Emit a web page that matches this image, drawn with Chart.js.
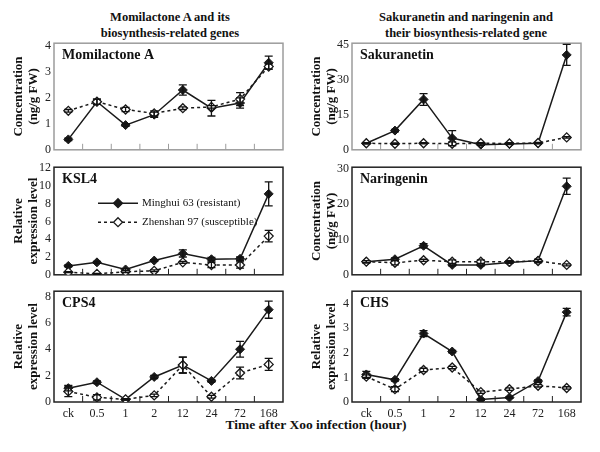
<!DOCTYPE html>
<html><head><meta charset="utf-8">
<script src="https://cdn.jsdelivr.net/npm/chart.js@4/dist/chart.umd.min.js"></script>
<style>
body{margin:0;background:#fff;width:600px;height:452px;position:relative;overflow:hidden;font-family:'Liberation Serif','Times New Roman',serif;color:#111;}
.hdr{position:absolute;font-weight:bold;font-size:12.5px;line-height:16px;text-align:center;white-space:nowrap;}
canvas{position:absolute;}
#xt{position:absolute;left:16px;width:600px;top:417px;text-align:center;font-weight:bold;font-size:13.5px;line-height:16px;}
</style></head><body>
<div class="hdr" id="h1" style="left:60px;width:220px;top:9px"></div>
<div class="hdr" id="h2" style="left:356px;width:220px;top:9px"></div>
<div id="xt"></div>
<script>
// ---------- data ----------
const categories = ['ck','0.5','1','2','12','24','72','168'];
const headerLeft = ['Momilactone A and its','biosynthesis-related genes'];
const headerRight = ['Sakuranetin and naringenin and','their biosynthesis-related gene'];
const xAxisTitle = 'Time after Xoo infection (hour)';
const concTitle = ['Concentration','(ng/g FW)'];
const exprTitle = ['Relative','expression level'];
const legendLabels = ['Minghui 63 (resistant)','Zhenshan 97 (susceptible)'];
const panelTitles = ['Momilactone A','Sakuranetin','KSL4','Naringenin','CPS4','CHS'];

const momiR    = [0.4, 1.85, 0.95, 1.35, 2.3, 1.6, 1.8, 3.35];
const momiRErr = [0.05, 0.1, 0.05, 0.1, 0.2, 0.3, 0.2, 0.25];
const momiS    = [1.5, 1.85, 1.55, 1.4, 1.6, 1.65, 1.95, 3.2];
const momiSErr = [0.05, 0.1, 0.08, 0.1, 0.05, 0.05, 0.25, 0.1];

const sakuR    = [2.8, 8.2, 21.5, 5.0, 2.2, 2.5, 2.8, 40.5];
const sakuRErr = [0.3, 0.5, 2.5, 3.2, 0.3, 0.3, 0.3, 4.5];
const sakuS    = [2.8, 2.6, 2.8, 2.6, 2.8, 2.7, 2.9, 5.3];
const sakuSErr = [0.3, 0.3, 0.3, 0.8, 0.3, 0.3, 0.3, 0.3];

const kslR     = [1.0, 1.4, 0.6, 1.6, 2.4, 1.75, 1.8, 9.1];
const kslRErr  = [0.1, 0.1, 0.1, 0.1, 0.4, 0.2, 0.2, 1.35];
const kslS     = [0.3, 0.1, 0.35, 0.45, 1.4, 1.1, 1.1, 4.35];
const kslSErr  = [0.05, 0.05, 0.1, 0.1, 0.1, 0.3, 0.35, 0.65];

const narR     = [3.7, 4.4, 8.2, 2.8, 2.8, 3.5, 4.0, 25.0];
const narRErr  = [0.3, 0.4, 0.6, 0.3, 0.3, 0.3, 0.3, 2.3];
const narS     = [3.7, 3.4, 4.1, 3.7, 3.7, 3.7, 3.9, 2.8];
const narSErr  = [0.3, 0.6, 0.3, 0.5, 0.5, 0.3, 0.5, 0.3];

const cpsR     = [1.05, 1.5, 0.2, 1.9, 2.8, 1.6, 4.0, 7.0];
const cpsRErr  = [0.2, 0.1, 0.05, 0.12, 0.6, 0.1, 0.6, 0.65];
const cpsS     = [0.8, 0.35, 0.2, 0.5, 2.8, 0.4, 2.2, 2.85];
const cpsSErr  = [0.4, 0.2, 0.05, 0.1, 0.6, 0.1, 0.45, 0.45];

const chsR     = [1.12, 0.9, 2.78, 2.05, 0.1, 0.18, 0.85, 3.65];
const chsRErr  = [0.12, 0.05, 0.12, 0.05, 0.03, 0.03, 0.05, 0.15];
const chsS     = [1.03, 0.52, 1.3, 1.4, 0.4, 0.52, 0.66, 0.57];
const chsSErr  = [0.07, 0.1, 0.07, 0.05, 0.05, 0.05, 0.05, 0.05];

// ---------- text ----------
document.getElementById('h1').innerHTML = headerLeft.join('<br>');
document.getElementById('h2').innerHTML = headerRight.join('<br>');
document.getElementById('xt').textContent = xAxisTitle;

const FONT = "'Liberation Serif','Times New Roman',serif";
Chart.defaults.font.family = FONT;
Chart.defaults.color = '#111';

// ---------- plugins ----------
const boxPlugin = {id:'box', beforeDatasetsDraw(chart, args, opts){
  const ctx = chart.ctx, a = chart.chartArea, x = chart.scales.x;
  ctx.save(); ctx.strokeStyle = opts.color; ctx.lineWidth = 1.5;
  ctx.strokeRect(a.left, a.top, a.right - a.left, a.bottom - a.top);
  ctx.beginPath();
  for (let i = 0; i < chart.data.labels.length - 1; i++) {
    const m = (x.getPixelForValue(i) + x.getPixelForValue(i + 1)) / 2;
    ctx.moveTo(m, a.bottom); ctx.lineTo(m, a.bottom - 6);
  }
  ctx.lineWidth = 1; ctx.stroke(); ctx.restore();
}};
const errPlugin = {id:'err', afterDatasetsDraw(chart){
  const ctx = chart.ctx, y = chart.scales.y;
  chart.data.datasets.forEach((ds, i) => {
    const meta = chart.getDatasetMeta(i);
    meta.data.forEach((pt, j) => {
      const e = ds.err[j]; if (!e) return;
      const v = ds.data[j];
      const y1 = y.getPixelForValue(v + e), y2 = y.getPixelForValue(v - e);
      ctx.save(); ctx.strokeStyle = '#111'; ctx.lineWidth = 1.3;
      ctx.beginPath();
      ctx.moveTo(pt.x, y1); ctx.lineTo(pt.x, y2);
      ctx.moveTo(pt.x - 4, y1); ctx.lineTo(pt.x + 4, y1);
      ctx.moveTo(pt.x - 4, y2); ctx.lineTo(pt.x + 4, y2);
      ctx.stroke(); ctx.restore();
    });
  });
}};
function diamond(ctx, cx, cy, r, fill){
  ctx.beginPath(); ctx.moveTo(cx, cy - r); ctx.lineTo(cx + r, cy); ctx.lineTo(cx, cy + r); ctx.lineTo(cx - r, cy); ctx.closePath();
  ctx.fillStyle = fill; ctx.fill(); ctx.lineWidth = 1.3; ctx.strokeStyle = '#1a1a1a'; ctx.stroke();
}
const labelPlugin = {id:'plabel', afterDraw(chart, args, opts){
  const ctx = chart.ctx, a = chart.chartArea;
  ctx.save();
  ctx.font = 'bold 14px ' + FONT; ctx.fillStyle = '#111'; ctx.textBaseline = 'middle'; ctx.textAlign = 'left';
  ctx.fillText(opts.text, a.left + 8, a.top + 12);
  if (opts.legend) {
    ctx.font = '11px ' + FONT;
    const rows = [{dash: [], fill: '#1a1a1a', dy: 36}, {dash: [3, 3], fill: '#fff', dy: 55}];
    rows.forEach((r, k) => {
      const yy = a.top + r.dy;
      ctx.setLineDash(r.dash); ctx.strokeStyle = '#1a1a1a'; ctx.lineWidth = 1.5;
      ctx.beginPath(); ctx.moveTo(a.left + 44, yy); ctx.lineTo(a.left + 84, yy); ctx.stroke();
      ctx.setLineDash([]);
      diamond(ctx, a.left + 64, yy, 4.5, r.fill);
      ctx.fillStyle = '#111'; ctx.fillText(legendLabels[k], a.left + 88, yy);
    });
  }
  ctx.restore();
}};

// ---------- panels ----------
const panels = [
  {t:0, yt:concTitle, r:momiR, re:momiRErr, s:momiS, se:momiSErr, max:4.1,  step:1,  col:0, row:0},
  {t:1, yt:concTitle, r:sakuR, re:sakuRErr, s:sakuS, se:sakuSErr, max:45.5, step:15, col:1, row:0},
  {t:2, yt:exprTitle, r:kslR,  re:kslRErr,  s:kslS,  se:kslSErr,  max:12.1, step:2,  col:0, row:1, legend:true},
  {t:3, yt:concTitle, r:narR,  re:narRErr,  s:narS,  se:narSErr,  max:30.4, step:10, col:1, row:1},
  {t:4, yt:exprTitle, r:cpsR,  re:cpsRErr,  s:cpsS,  se:cpsSErr,  max:8.4,  step:2,  col:0, row:2},
  {t:5, yt:exprTitle, r:chsR,  re:chsRErr,  s:chsS,  se:chsSErr,  max:4.5,  step:1,  col:1, row:2}
];
const rows = [{top:33, h:127, xh:8}, {top:157, h:128, xh:8}, {top:281, h:143, xh:22}];
const cols = [0, 298];

panels.forEach(p => {
  const rg = rows[p.row];
  const cv = document.createElement('canvas');
  cv.width = 290; cv.height = rg.h;
  cv.style.left = cols[p.col] + 'px'; cv.style.top = rg.top + 'px';
  document.body.appendChild(cv);
  new Chart(cv, {
    type: 'line',
    data: {labels: categories, datasets: [
      {data: p.r, err: p.re, borderColor: '#1a1a1a', borderWidth: 1.5, tension: 0,
       pointStyle: 'rectRot', pointRadius: 4.5, pointBackgroundColor: '#1a1a1a', pointBorderColor: '#1a1a1a', pointBorderWidth: 1, order: 1},
      {data: p.s, err: p.se, borderColor: '#1a1a1a', borderWidth: 1.5, borderDash: [3, 3], tension: 0,
       pointStyle: 'rectRot', pointRadius: 4.5, pointBackgroundColor: '#fff', pointBorderColor: '#1a1a1a', pointBorderWidth: 1.3, order: 0}
    ]},
    options: {
      responsive: false, animation: false, devicePixelRatio: 1,
      layout: {padding: {top: 8, right: 7, left: 0, bottom: 0}},
      plugins: {legend: {display: false}, tooltip: {enabled: false},
        box: {color: p.row === 0 ? '#9c9c9c' : '#222'},
        plabel: {text: panelTitles[p.t], legend: !!p.legend}},
      scales: {
        x: {type: 'category', offset: true, grid: {display: false, drawTicks: false}, border: {display: false},
            ticks: {display: p.row === 2, font: {size: 12}, color: '#222', padding: 5, maxRotation: 0, autoSkip: false},
            afterFit: s => { s.height = rg.xh; }},
        y: {min: 0, max: p.max, grid: {display: false, drawTicks: false}, border: {display: false},
            ticks: {stepSize: p.step, includeBounds: false, font: {size: 12}, color: '#222', padding: 3},
            title: {display: true, text: p.yt, color: '#111', font: {size: 13, weight: 'bold', lineHeight: 1.15}, padding: {top: 11, bottom: 0}},
            afterFit: s => { s.width = 54; }}
      }
    },
    plugins: [boxPlugin, errPlugin, labelPlugin]
  });
});
</script>
</body></html>
